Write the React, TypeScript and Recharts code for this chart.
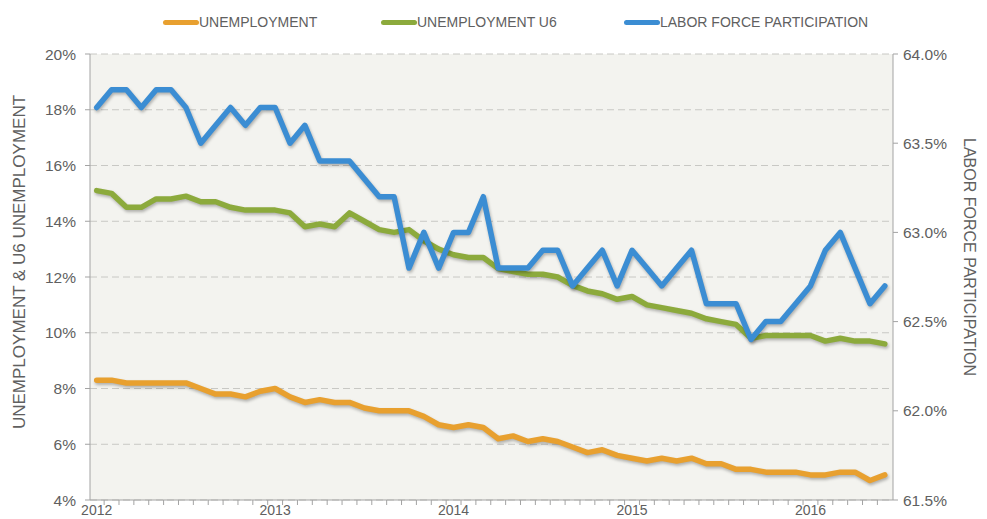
import React from 'react';
import { LineChart, Line, XAxis, YAxis, CartesianGrid, Label } from 'recharts';

// Monthly data, Jan 2012 – Jun 2016
const months = [
  'Jan 2012','Feb 2012','Mar 2012','Apr 2012','May 2012','Jun 2012','Jul 2012','Aug 2012','Sep 2012','Oct 2012','Nov 2012','Dec 2012',
  'Jan 2013','Feb 2013','Mar 2013','Apr 2013','May 2013','Jun 2013','Jul 2013','Aug 2013','Sep 2013','Oct 2013','Nov 2013','Dec 2013',
  'Jan 2014','Feb 2014','Mar 2014','Apr 2014','May 2014','Jun 2014','Jul 2014','Aug 2014','Sep 2014','Oct 2014','Nov 2014','Dec 2014',
  'Jan 2015','Feb 2015','Mar 2015','Apr 2015','May 2015','Jun 2015','Jul 2015','Aug 2015','Sep 2015','Oct 2015','Nov 2015','Dec 2015',
  'Jan 2016','Feb 2016','Mar 2016','Apr 2016','May 2016','Jun 2016',
];

const unemployment = [
  8.3, 8.3, 8.2, 8.2, 8.2, 8.2, 8.2, 8.0, 7.8, 7.8, 7.7, 7.9,
  8.0, 7.7, 7.5, 7.6, 7.5, 7.5, 7.3, 7.2, 7.2, 7.2, 7.0, 6.7,
  6.6, 6.7, 6.6, 6.2, 6.3, 6.1, 6.2, 6.1, 5.9, 5.7, 5.8, 5.6,
  5.5, 5.4, 5.5, 5.4, 5.5, 5.3, 5.3, 5.1, 5.1, 5.0, 5.0, 5.0,
  4.9, 4.9, 5.0, 5.0, 4.7, 4.9,
];

const unemploymentU6 = [
  15.1, 15.0, 14.5, 14.5, 14.8, 14.8, 14.9, 14.7, 14.7, 14.5, 14.4, 14.4,
  14.4, 14.3, 13.8, 13.9, 13.8, 14.3, 14.0, 13.7, 13.6, 13.7, 13.3, 13.0,
  12.8, 12.7, 12.7, 12.3, 12.2, 12.1, 12.1, 12.0, 11.7, 11.5, 11.4, 11.2,
  11.3, 11.0, 10.9, 10.8, 10.7, 10.5, 10.4, 10.3, 9.8, 9.9, 9.9, 9.9,
  9.9, 9.7, 9.8, 9.7, 9.7, 9.6,
];

const laborForce = [
  63.7, 63.8, 63.8, 63.7, 63.8, 63.8, 63.7, 63.5, 63.6, 63.7, 63.6, 63.7,
  63.7, 63.5, 63.6, 63.4, 63.4, 63.4, 63.3, 63.2, 63.2, 62.8, 63.0, 62.8,
  63.0, 63.0, 63.2, 62.8, 62.8, 62.8, 62.9, 62.9, 62.7, 62.8, 62.9, 62.7,
  62.9, 62.8, 62.7, 62.8, 62.9, 62.6, 62.6, 62.6, 62.4, 62.5, 62.5, 62.6,
  62.7, 62.9, 63.0, 62.8, 62.6, 62.7,
];

const yearTicks = [0, 12, 24, 36, 48];
const yearLabels = ['2012', '2013', '2014', '2015', '2016'];
const leftTicks = [4, 6, 8, 10, 12, 14, 16, 18, 20];
const rightTicks = [61.5, 62.0, 62.5, 63.0, 63.5, 64.0];

const seriesNames = ['UNEMPLOYMENT', 'UNEMPLOYMENT U6', 'LABOR FORCE PARTICIPATION'];
const seriesColors = ['#E8A02F', '#8CAA3C', '#3B8DD3'];

const leftTitle = 'UNEMPLOYMENT & U6 UNEMPLOYMENT';
const rightTitle = 'LABOR FORCE PARTICIPATION';

const data = months.map((m, i) => ({
  x: i,
  month: m,
  u3: unemployment[i],
  u6: unemploymentU6[i],
  lfpr: laborForce[i],
}));

const minorTicks = months.slice(0, months.length - 1).map((_, i) => i + 0.5);

const FONT = '"Liberation Sans", Arial, Helvetica, sans-serif';
const TEXT = '#606060';
const AXIS = '#a3a3a3';

const XTick = (props: any) => {
  const { x, y, payload } = props;
  const v = payload.value;
  const idx = yearTicks.indexOf(v);
  if (idx >= 0) {
    return (
      <text x={x} y={y} dy="0.71em" textAnchor="middle" fill={TEXT} fontSize={14} fontFamily={FONT}>
        {yearLabels[idx]}
      </text>
    );
  }
  return <line x1={x} x2={x} y1={y - 5} y2={y} stroke={AXIS} strokeWidth={1} />;
};

const LeftTitle = (props: any) => {
  const vb = props.viewBox || {};
  const cx = vb.x + 19;
  const cy = vb.y + vb.height / 2 - 15;
  return (
    <text
      x={cx}
      y={cy}
      transform={`rotate(-90, ${cx}, ${cy})`}
      textAnchor="middle"
      dominantBaseline="central"
      fill={TEXT}
      fontSize={17}
      fontFamily={FONT}
    >
      {leftTitle}
    </text>
  );
};

const RightTitle = (props: any) => {
  const vb = props.viewBox || {};
  const cx = vb.x + 76;
  const cy = vb.y + vb.height / 2 - 20;
  return (
    <text
      x={cx}
      y={cy}
      transform={`rotate(90, ${cx}, ${cy})`}
      textAnchor="middle"
      dominantBaseline="central"
      fill={TEXT}
      fontSize={16}
      fontFamily={FONT}
    >
      {rightTitle}
    </text>
  );
};

const legendLeft = [163, 381, 624];

const LegendRow = () => (
  <div style={{ position: 'absolute', left: 0, top: 0, width: 987, height: 44 }}>
    {seriesNames.map((name, i) => (
      <div
        key={name}
        style={{
          position: 'absolute',
          left: legendLeft[i],
          top: 14,
          display: 'flex',
          alignItems: 'center',
          fontFamily: FONT,
          fontSize: 14,
          color: TEXT,
          whiteSpace: 'nowrap',
          lineHeight: '16px',
        }}
      >
        <span
          style={{
            display: 'inline-block',
            width: 36,
            height: 5,
            borderRadius: 3,
            background: seriesColors[i],
          }}
        />
        <span>{name}</span>
      </div>
    ))}
  </div>
);

export default function App() {
  return (
    <div style={{ position: 'absolute', left: 0, top: 0, width: 987, height: 519, background: '#ffffff', overflow: 'hidden' }}>
      <style>{`.shadow-line path, path.shadow-line { filter: drop-shadow(1.5px 2px 1.5px rgba(0,0,0,0.28)); }`}</style>
      <LineChart width={987} height={519} data={data} margin={{ top: 54, right: 0, bottom: 0, left: 0 }}>
        <CartesianGrid
          yAxisId="left"
          vertical={false}
          horizontal={true}
          stroke="#c8c8c4"
          strokeDasharray="7 4"
          fill="#f3f3ef"
        />
        <XAxis
          type="number"
          dataKey="x"
          domain={[-0.45, 53.55]}
          ticks={[...yearTicks, ...minorTicks]}
          interval={0}
          height={19}
          tickSize={5}
          tickMargin={0}
          tickLine={false}
          axisLine={{ stroke: AXIS }}
          tick={<XTick />}
          allowDataOverflow
        />
        <YAxis
          yAxisId="left"
          domain={[4, 20]}
          ticks={leftTicks}
          interval={0}
          width={90}
          tickSize={5}
          tickMargin={9}
          tickFormatter={(v: number) => `${v}%`}
          axisLine={{ stroke: AXIS }}
          tickLine={{ stroke: AXIS }}
          tick={{ fill: TEXT, fontSize: 15.5, fontFamily: FONT }}
        >
          <Label content={<LeftTitle />} />
        </YAxis>
        <YAxis
          yAxisId="right"
          orientation="right"
          domain={[61.5, 64]}
          ticks={rightTicks}
          interval={0}
          width={94}
          tickSize={5}
          tickMargin={5}
          tickFormatter={(v: number) => `${v.toFixed(1)}%`}
          axisLine={{ stroke: AXIS }}
          tickLine={{ stroke: AXIS }}
          tick={{ fill: TEXT, fontSize: 15.5, fontFamily: FONT }}
        >
          <Label content={<RightTitle />} />
        </YAxis>
        <Line
          yAxisId="left"
          type="linear"
          dataKey="u3"
          name={seriesNames[0]}
          stroke={seriesColors[0]}
          strokeWidth={5.5}
          dot={false}
          activeDot={false}
          isAnimationActive={false}
          className="shadow-line"
          strokeLinejoin="round"
          strokeLinecap="round"
        />
        <Line
          yAxisId="left"
          type="linear"
          dataKey="u6"
          name={seriesNames[1]}
          stroke={seriesColors[1]}
          strokeWidth={5.5}
          dot={false}
          activeDot={false}
          isAnimationActive={false}
          className="shadow-line"
          strokeLinejoin="round"
          strokeLinecap="round"
        />
        <Line
          yAxisId="right"
          type="linear"
          dataKey="lfpr"
          name={seriesNames[2]}
          stroke={seriesColors[2]}
          strokeWidth={5.5}
          dot={false}
          activeDot={false}
          isAnimationActive={false}
          className="shadow-line"
          strokeLinejoin="round"
          strokeLinecap="round"
        />
      </LineChart>
      <LegendRow />
    </div>
  );
}
